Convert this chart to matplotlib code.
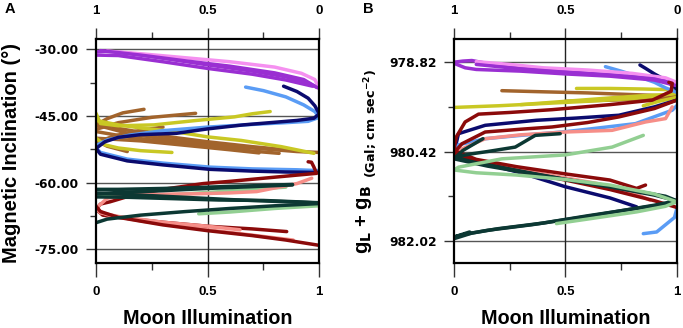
import matplotlib
matplotlib.use("Agg")
import matplotlib.pyplot as plt
from matplotlib.ticker import FixedLocator, FixedFormatter

plt.rcParams['font.family'] = ['Liberation Sans', 'DejaVu Sans']
plt.rcParams['mathtext.fontset'] = 'custom'
plt.rcParams['mathtext.rm'] = 'DejaVu Sans'
plt.rcParams['mathtext.bf'] = 'DejaVu Sans:bold'
plt.rcParams['mathtext.it'] = 'DejaVu Sans:italic'

# ---------------- colours ----------------
C_PURPLE = "#9a2fd2"
C_PINK = "#f590f0"
C_NAVY = "#0b0b6e"
C_LBLUE = "#5a9cf5"
C_YELLOW = "#c9c824"
C_BROWN = "#a2642c"
C_DRED = "#8b0a0a"
C_SALMON = "#f68e88"
C_DGREEN = "#0c3833"
C_LGREEN = "#92cf92"

# ---------------- panel A data (Moon illumination vs magnetic inclination, deg) ----------------
a_brown1_x = [0.0, 0.05, 0.12, 0.215]
a_brown1_y = [-47.0, -45.6, -44.3, -43.5]
a_brown2_x = [0.0, 0.1, 0.25, 0.446]
a_brown2_y = [-48.0, -46.5, -45.3, -44.4]
a_brown3_x = [0.0, 0.15, 0.35, 0.55, 0.7, 0.82]
a_brown3_y = [-48.5, -49.8, -51.0, -52.0, -52.9, -53.4]
a_brown4_x = [0.0, 0.2, 0.4, 0.6, 0.73]
a_brown4_y = [-50.0, -50.6, -51.6, -52.6, -53.3]
a_brown5_x = [0.0, 0.15, 0.35, 0.55, 0.75, 0.9, 1.0]
a_brown5_y = [-47.0, -49.0, -50.5, -51.6, -52.4, -53.0, -53.2]
a_brown6_x = [0.0, 0.05, 0.14]
a_brown6_y = [-50.5, -51.8, -53.0]
a_brown7_x = [0.0, 0.1, 0.3, 0.5, 0.7, 0.85]
a_brown7_y = [-46.0, -47.8, -49.5, -50.8, -51.9, -52.6]
a_brown8_x = [0.0, 0.08, 0.2, 0.3]
a_brown8_y = [-51.0, -49.5, -48.2, -47.5]

a_yellow1_x = [0.0, 0.02, 0.1, 0.26, 0.45, 0.62, 0.7, 0.78]
a_yellow1_y = [-44.4, -46.7, -47.2, -47.0, -46.0, -45.2, -44.5, -44.0]
a_yellow2_x = [0.0, 0.1, 0.2, 0.35, 0.5, 0.65, 0.83, 0.976]
a_yellow2_y = [-46.0, -47.0, -47.7, -48.5, -49.7, -50.5, -51.9, -53.4]
a_yellow3_x = [0.0, 0.04, 0.1, 0.2, 0.34]
a_yellow3_y = [-50.0, -51.5, -52.2, -52.8, -53.2]

a_navy1_x = [0.84, 0.9, 0.95, 0.98, 1.0, 0.976, 0.9, 0.66, 0.5, 0.36, 0.2, 0.1, 0.04, 0.0,
             0.02, 0.14, 0.3, 0.51, 0.7, 0.85, 1.0]
a_navy1_y = [-38.3, -39.5, -41.0, -42.7, -44.5, -45.5, -46.0, -47.0, -47.9, -48.9, -49.2, -49.8, -50.8, -52.3,
             -53.6, -55.1, -56.0, -57.0, -57.4, -57.6, -57.7]
a_lblue1_x = [0.67, 0.75, 0.85, 0.93, 0.98, 1.0, 0.95, 0.85, 0.7, 0.5, 0.3, 0.15, 0.05, 0.01, -0.005,
              0.02, 0.14, 0.3, 0.51, 0.7, 0.9, 1.0]
a_lblue1_y = [-38.5, -39.3, -40.7, -42.5, -44.0, -45.3, -46.2, -46.5, -46.9, -47.5, -48.3, -49.3, -50.4, -51.4, -51.9,
              -53.2, -54.7, -55.6, -56.5, -56.9, -57.1, -57.3]

a_purple1_x = [0.0, 0.05, 0.15, 0.3, 0.5, 0.7, 0.85, 0.95, 1.0]
a_purple1_y = [-30.6, -30.4, -30.9, -32.0, -33.5, -34.9, -36.2, -37.6, -38.8]
a_purple2_x = [0.0, 0.1, 0.3, 0.5, 0.7, 0.85, 0.97]
a_purple2_y = [-31.3, -31.4, -32.8, -34.3, -35.6, -36.9, -38.3]
a_purple3_x = [0.02, 0.2, 0.4, 0.6, 0.8, 0.93, 0.99]
a_purple3_y = [-30.3, -31.3, -32.6, -33.8, -35.3, -36.8, -38.6]
a_pink_x = [0.05, 0.2, 0.4, 0.6, 0.8, 0.92, 0.98, 1.0]
a_pink_y = [-30.4, -31.0, -31.9, -32.8, -34.0, -35.4, -36.8, -38.9]

a_lgreen1_x = [0.0, 0.1, 0.3, 0.5, 0.7, 0.85]
a_lgreen1_y = [-62.8, -63.0, -62.8, -62.2, -61.5, -61.0]
a_lgreen2_x = [0.46, 0.6, 0.8, 1.0]
a_lgreen2_y = [-67.0, -66.6, -65.8, -65.2]

a_dgreen1_x = [0.0, 0.1, 0.3, 0.5, 0.7, 0.88]
a_dgreen1_y = [-61.5, -61.5, -61.3, -61.0, -60.7, -60.4]
a_dgreen2_x = [0.0, 0.1, 0.3, 0.5, 0.7, 0.88]
a_dgreen2_y = [-62.5, -62.2, -61.8, -61.3, -60.9, -60.5]
a_dgreen3_x = [0.0, 0.2, 0.4, 0.6, 0.8, 1.0]
a_dgreen3_y = [-62.3, -62.8, -63.3, -63.8, -64.2, -64.5]
a_dgreen4_x = [0.0, 0.15, 0.35, 0.55, 0.75, 0.9, 1.0]
a_dgreen4_y = [-63.2, -63.3, -63.6, -63.9, -64.0, -64.3, -64.6]
a_dgreen5_x = [0.0, 0.05, 0.2, 0.4, 0.6, 0.8, 1.0]
a_dgreen5_y = [-69.0, -68.2, -67.3, -66.5, -65.8, -65.2, -64.7]

a_dred1_x = [0.95, 0.965, 0.975, 0.988, 0.9, 0.75, 0.6, 0.48, 0.3, 0.15, 0.063, 0.02, 0.0, 0.03, 0.1, 0.3, 0.5, 0.7, 0.854]
a_dred1_y = [-55.3, -55.4, -56.4, -57.9, -58.3, -59.0, -59.7, -60.2, -61.5, -63.0, -64.3, -64.8, -66.0, -67.3, -67.8, -68.9, -69.8, -70.4, -71.0]
a_dred2_x = [0.0, 0.02, 0.1, 0.3, 0.5, 0.7, 0.85, 1.0]
a_dred2_y = [-65.3, -66.5, -67.8, -69.5, -70.8, -71.9, -72.9, -74.1]

a_salmon1_x = [0.966, 0.9, 0.8, 0.72, 0.6, 0.45, 0.3, 0.15, 0.05, 0.0, 0.02, 0.1, 0.3, 0.5, 0.645]
a_salmon1_y = [-59.0, -60.2, -61.2, -62.0, -62.3, -62.5, -62.6, -62.8, -63.5, -65.8, -66.8, -67.6, -68.9, -69.8, -70.6]
a_salmon2_x = [0.0, 0.05, 0.2, 0.4, 0.6, 0.75, 0.883]
a_salmon2_y = [-66.0, -67.2, -68.6, -70.0, -71.2, -72.1, -72.9]

# ---------------- panel B data (Moon illumination vs gL + gB, Gal) ----------------
b_brown1_x = [0.215, 0.4, 0.6, 0.8, 1.0]
b_brown1_y = [979.33, 979.35, 979.37, 979.40, 979.43]
b_brown2_x = [0.5, 0.7, 0.9, 1.0]
b_brown2_y = [979.52, 979.50, 979.48, 979.45]

b_yellow1_x = [0.0, 0.2, 0.4, 0.6, 0.8, 0.92, 1.0]
b_yellow1_y = [979.63, 979.60, 979.56, 979.52, 979.47, 979.42, 979.37]
b_yellow2_x = [0.55, 0.7, 0.85, 0.95, 1.0]
b_yellow2_y = [979.29, 979.29, 979.30, 979.31, 979.33]
b_yellow3_x = [0.3, 0.5, 0.7, 0.85, 0.95, 1.0]
b_yellow3_y = [979.58, 979.52, 979.46, 979.42, 979.40, 979.38]
b_yellow4_x = [0.85, 0.92, 1.0]
b_yellow4_y = [979.60, 979.52, 979.45]

b_navy1_x = [0.835, 0.86, 0.9, 0.95, 1.0]
b_navy1_y = [978.87, 978.93, 979.03, 979.14, 979.30]
b_navy2_x = [1.0, 0.9, 0.74, 0.55, 0.37, 0.14, 0.02, 0.0, 0.1, 0.3, 0.5, 0.7, 0.82]
b_navy2_y = [979.50, 979.62, 979.77, 979.82, 979.86, 979.95, 980.10, 980.45, 980.60, 980.80, 981.05, 981.25, 981.41]

b_lblue1_x = [0.68, 0.75, 0.83, 0.9, 0.95, 1.0]
b_lblue1_y = [978.90, 978.98, 979.08, 979.18, 979.28, 979.36]
b_lblue2_x = [1.0, 0.98, 0.815, 0.6, 0.485, 0.3, 0.14, 0.02, 0.0]
b_lblue2_y = [979.60, 979.68, 979.92, 980.02, 980.07, 980.13, 980.19, 980.30, 980.40]
b_lblue3_x = [0.85, 0.91, 0.99, 1.0]
b_lblue3_y = [981.89, 981.86, 981.60, 981.45]

b_purple1_x = [0.0, 0.04, 0.08, 0.2, 0.4, 0.6, 0.8, 0.95, 1.0]
b_purple1_y = [978.82, 978.80, 978.79, 978.88, 978.96, 979.02, 979.08, 979.14, 979.22]
b_purple2_x = [0.0, 0.05, 0.1, 0.3, 0.5, 0.7, 0.9, 1.0]
b_purple2_y = [978.84, 978.92, 978.95, 978.98, 979.03, 979.07, 979.14, 979.24]
b_purple3_x = [0.1, 0.3, 0.5, 0.7, 0.9, 0.98]
b_purple3_y = [978.86, 978.94, 979.00, 979.05, 979.12, 979.20]
b_pink_x = [0.1, 0.25, 0.4, 0.6, 0.8, 0.95, 1.0]
b_pink_y = [978.81, 978.86, 978.92, 978.96, 979.02, 979.10, 979.18]

b_dred1_x = [0.965, 0.98, 0.975, 0.89, 0.7, 0.44, 0.25, 0.11, 0.05, 0.01, 0.0,
             0.1, 0.28, 0.5, 0.7, 0.82, 0.86]
b_dred1_y = [979.18, 979.20, 979.34, 979.50, 979.58, 979.67, 979.72, 979.75, 979.89, 980.16, 980.40,
             980.56, 980.69, 980.82, 980.93, 981.08, 981.02]
b_dred2_x = [1.0, 0.9, 0.7, 0.5, 0.3, 0.1, 0.0, 0.036, 0.14, 0.3, 0.44, 0.6, 0.74, 0.9, 1.0]
b_dred2_y = [981.42, 981.30, 981.10, 980.93, 980.78, 980.60, 980.44, 980.28, 980.07, 980.02, 979.98, 979.90, 979.80, 979.65, 979.50]

b_salmon_x = [0.98, 0.95, 0.86, 0.71, 0.5, 0.3, 0.14, 0.02, 0.0, 0.13, 0.4, 0.64, 0.8, 0.88]
b_salmon_y = [979.62, 979.83, 979.89, 980.04, 980.07, 980.12, 980.19, 980.40, 980.50, 980.60, 980.82, 980.99, 981.15, 981.29]

b_lgreen_x = [0.85, 0.71, 0.5, 0.215, 0.02, 0.0, 0.1, 0.28, 0.5, 0.7, 0.9, 1.0, 0.95, 0.82, 0.65, 0.46]
b_lgreen_y = [980.13, 980.34, 980.48, 980.55, 980.70, 980.75, 980.80, 980.84, 980.92, 981.02, 981.18, 981.32, 981.40, 981.50, 981.60, 981.71]

b_dgreen1_x = [0.477, 0.365, 0.275, 0.15, 0.08, 0.0, 0.1, 0.3, 0.5, 0.7, 0.85, 0.95, 1.0,
               0.95, 0.8, 0.6, 0.4, 0.2, 0.08, 0.0]
b_dgreen1_y = [980.10, 980.13, 980.34, 980.42, 980.46, 980.52, 980.62, 980.77, 980.92, 981.05, 981.15, 981.22, 981.30,
               981.36, 981.45, 981.57, 981.70, 981.80, 981.88, 981.98]
b_dgreen2_x = [0.13, 0.04, 0.0, 0.15, 0.4, 0.7, 0.9, 1.0, 0.9, 0.6, 0.35, 0.15, 0.05, 0.0, 0.07]
b_dgreen2_y = [980.19, 980.40, 980.55, 980.68, 980.85, 981.05, 981.20, 981.30, 981.38, 981.58, 981.73, 981.83, 981.90, 981.95, 981.86]

# ---------------- axis text ----------------
x_ticks = [0.0, 0.5, 1.0]
x_tick_labels = ["0", "0.5", "1"]
top_tick_labels = ["0", "0.5", "1"]
a_yticks = [-30.0, -45.0, -60.0, -75.0]
a_yminor = [-37.5, -52.5, -67.5]
b_yticks = [978.82, 980.42, 982.02]
b_yminor = [979.62, 981.22]

a_lines = [
    (a_brown1_x, a_brown1_y, C_BROWN), (a_brown2_x, a_brown2_y, C_BROWN),
    (a_brown3_x, a_brown3_y, C_BROWN), (a_brown4_x, a_brown4_y, C_BROWN),
    (a_brown5_x, a_brown5_y, C_BROWN), (a_brown6_x, a_brown6_y, C_BROWN),
    (a_brown7_x, a_brown7_y, C_BROWN), (a_brown8_x, a_brown8_y, C_BROWN),
    (a_yellow1_x, a_yellow1_y, C_YELLOW), (a_yellow2_x, a_yellow2_y, C_YELLOW),
    (a_yellow3_x, a_yellow3_y, C_YELLOW),
    (a_lblue1_x, a_lblue1_y, C_LBLUE), (a_navy1_x, a_navy1_y, C_NAVY),
    (a_purple1_x, a_purple1_y, C_PURPLE), (a_purple2_x, a_purple2_y, C_PURPLE),
    (a_pink_x, a_pink_y, C_PINK), (a_purple3_x, a_purple3_y, C_PURPLE),
    (a_lgreen1_x, a_lgreen1_y, C_LGREEN), (a_lgreen2_x, a_lgreen2_y, C_LGREEN),
    (a_dred1_x, a_dred1_y, C_DRED), (a_salmon1_x, a_salmon1_y, C_SALMON),
    (a_salmon2_x, a_salmon2_y, C_SALMON), (a_dred2_x, a_dred2_y, C_DRED),
    (a_dgreen1_x, a_dgreen1_y, C_DGREEN), (a_dgreen2_x, a_dgreen2_y, C_DGREEN),
    (a_dgreen3_x, a_dgreen3_y, C_DGREEN), (a_dgreen4_x, a_dgreen4_y, C_DGREEN),
    (a_dgreen5_x, a_dgreen5_y, C_DGREEN),
]
b_lines = [
    (b_brown1_x, b_brown1_y, C_BROWN), (b_brown2_x, b_brown2_y, C_BROWN),
    (b_yellow1_x, b_yellow1_y, C_YELLOW), (b_yellow2_x, b_yellow2_y, C_YELLOW),
    (b_yellow3_x, b_yellow3_y, C_YELLOW), (b_yellow4_x, b_yellow4_y, C_YELLOW),
    (b_lblue1_x, b_lblue1_y, C_LBLUE), (b_navy1_x, b_navy1_y, C_NAVY),
    (b_navy2_x, b_navy2_y, C_NAVY), (b_lblue2_x, b_lblue2_y, C_LBLUE),
    (b_lblue3_x, b_lblue3_y, C_LBLUE),
    (b_purple1_x, b_purple1_y, C_PURPLE), (b_purple2_x, b_purple2_y, C_PURPLE),
    (b_pink_x, b_pink_y, C_PINK), (b_purple3_x, b_purple3_y, C_PURPLE),
    (b_salmon_x, b_salmon_y, C_SALMON),
    (b_dred2_x, b_dred2_y, C_DRED), (b_dred1_x, b_dred1_y, C_DRED),
    (b_dgreen1_x, b_dgreen1_y, C_DGREEN), (b_dgreen2_x, b_dgreen2_y, C_DGREEN),
    (b_lgreen_x, b_lgreen_y, C_LGREEN),
]

W, H = 683, 328
fig = plt.figure(figsize=(W / 100, H / 100), dpi=100)


def px_rect(x0, y0, x1, y1):
    return [x0 / W, 1 - y1 / H, (x1 - x0) / W, (y1 - y0) / H]


def style_axes(ax, yticks, yminor, ylim, fmt):
    ax.set_xlim(0, 1)
    ax.set_ylim(*ylim)
    for sp in ax.spines.values():
        sp.set_linewidth(1.6)
        sp.set_color("black")
        sp.set_zorder(5)
    ax.xaxis.set_major_locator(FixedLocator(x_ticks))
    ax.xaxis.set_major_formatter(FixedFormatter(x_tick_labels))
    ax.xaxis.set_minor_locator(FixedLocator([0.25, 0.75]))
    ax.yaxis.set_major_locator(FixedLocator(yticks))
    ax.yaxis.set_major_formatter(FixedFormatter([fmt % v for v in yticks]))
    ax.yaxis.set_minor_locator(FixedLocator(yminor))
    ax.tick_params(axis="x", which="major", direction="out", length=10, width=1,
                   color="#333333", pad=7, labelsize=9.5)
    ax.tick_params(axis="x", which="minor", direction="out", length=5, width=1, color="#333333")
    ax.tick_params(axis="y", which="major", direction="out", length=7.5, width=1,
                   color="#333333", pad=5, labelsize=8.8)
    ax.tick_params(axis="y", which="minor", direction="out", length=4, width=1, color="#333333")
    for lab in ax.get_xticklabels():
        lab.set_fontweight("bold")
    for lab in ax.get_yticklabels():
        lab.set_fontweight("bold")
        lab.set_family("DejaVu Sans")
    for v in yticks:
        ax.axhline(v, color="#555555", lw=1.0, zorder=1)
    ax.axvline(0.5, color="#222222", lw=1.0, zorder=1)
    sec = ax.secondary_xaxis("top", functions=(lambda x: 1 - x, lambda x: 1 - x))
    sec.xaxis.set_major_locator(FixedLocator(x_ticks))
    sec.xaxis.set_major_formatter(FixedFormatter(top_tick_labels))
    sec.xaxis.set_minor_locator(FixedLocator([0.25, 0.75]))
    sec.tick_params(axis="x", which="major", direction="out", length=8, width=1,
                    color="#333333", pad=8, labelsize=9.5)
    sec.tick_params(axis="x", which="minor", direction="out", length=5, width=1, color="#333333")
    sec.spines["top"].set_visible(False)
    for lab in sec.get_xticklabels():
        lab.set_fontweight("bold")
    return sec


axA = fig.add_axes(px_rect(96, 39.3, 319.3, 262.7))
style_axes(axA, a_yticks, a_yminor, (-78.0, -27.75), "%.2f")
for xs, ys, c in a_lines:
    axA.plot(xs, ys, color=c, lw=2.5, solid_capstyle="round", solid_joinstyle="round", zorder=3)

axB = fig.add_axes(px_rect(454, 39.3, 676.7, 262.7))
style_axes(axB, b_yticks, b_yminor, (982.41, 978.41), "%.2f")
for xs, ys, c in b_lines:
    axB.plot(xs, ys, color=c, lw=2.5, solid_capstyle="round", solid_joinstyle="round", zorder=3)

# labels
fig.text(207.7 / W, 1 - 318 / H, "Moon Illumination", ha="center", va="center",
         fontsize=14.2, fontweight="bold")
fig.text(565.3 / W, 1 - 318 / H, "Moon Illumination", ha="center", va="center",
         fontsize=14.2, fontweight="bold")
fig.text(12 / W, 1 - 153 / H, "Magnetic Inclination (°)", ha="center", va="center",
         rotation=90, fontsize=14.5, fontweight="bold")
fig.text(364 / W, 1 - 219 / H, r"g$_\mathbf{L}$ + g$_\mathbf{B}$", ha="center", va="center",
         rotation=90, fontsize=14.5, fontweight="bold")
fig.text(371 / W, 1 - 124 / H, r"(Gal; cm sec$^{\mathbf{-2}}$)", ha="center", va="center",
         rotation=90, fontsize=9.2, fontweight="bold", family="DejaVu Sans")
fig.text(10 / W, 1 - 9 / H, "A", ha="center", va="center", fontsize=10.5, fontweight="bold")
fig.text(368 / W, 1 - 9 / H, "B", ha="center", va="center", fontsize=10.5, fontweight="bold")

fig.savefig("out.png", dpi=100)
